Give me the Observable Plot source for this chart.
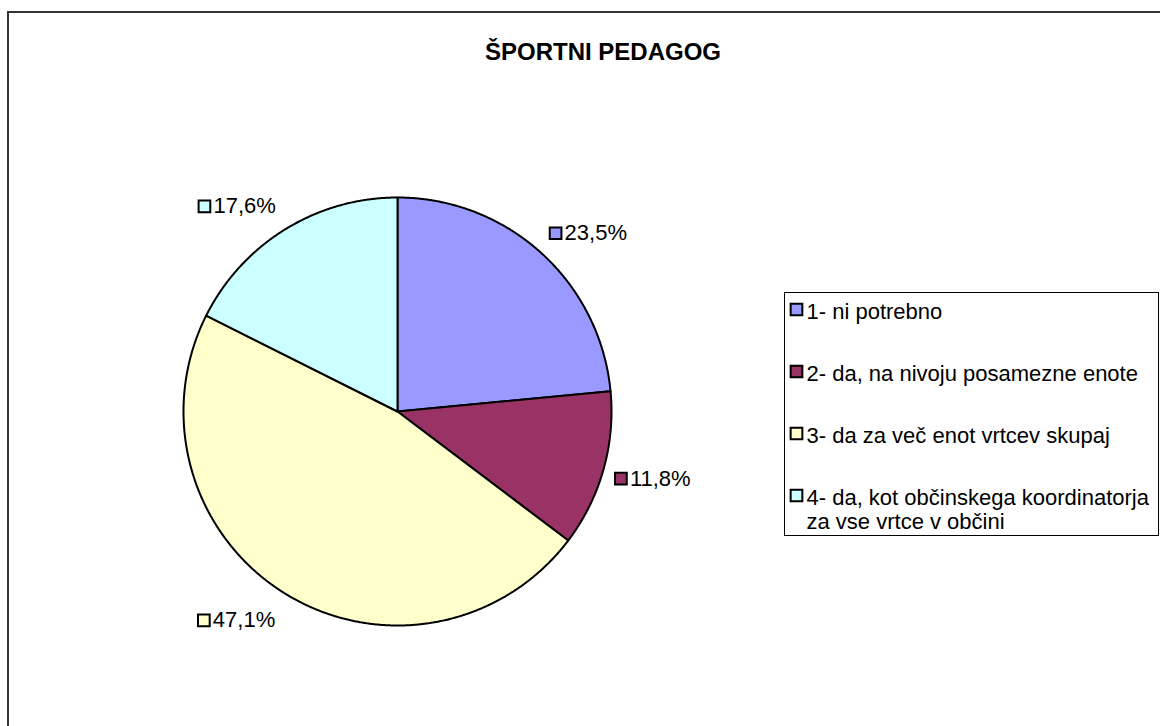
<!DOCTYPE html>
<html><head><meta charset="utf-8">
<script src="https://cdn.jsdelivr.net/npm/d3@7"></script>
<script src="https://cdn.jsdelivr.net/npm/@observablehq/plot@0.6"></script>
<style>
html,body{margin:0;padding:0;background:#fff;}
#wrap{position:relative;width:1160px;height:726px;overflow:hidden;font-family:"Liberation Sans",Arial,sans-serif;}
#border{position:absolute;left:7px;top:11px;width:1200px;height:800px;border:2px solid #333;box-sizing:border-box}
#title{position:absolute;left:0;width:1206px;top:38px;text-align:center;font-weight:bold;font-size:24px;color:#000}
#chart{position:absolute;left:0;top:0}
#legend{position:absolute;left:784px;top:292px}
svg{overflow:visible}
</style></head><body>
<div id="wrap"><div id="border"></div><div id="title">ŠPORTNI PEDAGOG</div><div id="chart"></div><div id="legend"></div></div>
<script>
const categories = ["1- ni potrebno", "2- da, na nivoju posamezne enote", "3- da za več enot vrtcev skupaj", "4- da, kot občinskega koordinatorja\nza vse vrtce v občini"];
const shares = [23.5, 11.8, 47.1, 17.6];
const labels = ["23,5%", "11,8%", "47,1%", "17,6%"];
const colors = ["#9999FF", "#993366", "#FFFFCC", "#CCFFFF"];

const FONT = '"Liberation Sans", Arial, sans-serif';
const LABEL_SIZE = 22;
const SQ = 6.6;

const rows = categories.map((c, i) => ({key: c, share: shares[i], label: labels[i]}));
const arcs = d3.pie().sort(null).value(d => d.share)(rows);

// polygon points for every slice, derived from the pie layout
const points = arcs.flatMap(a => {
  const pts = [{key: a.data.key, x: 0, y: 0}];
  const n = Math.max(2, Math.ceil((a.endAngle - a.startAngle) / 0.005));
  for (let k = 0; k <= n; k++) {
    const t = a.startAngle + (a.endAngle - a.startAngle) * k / n;
    pts.push({key: a.data.key, x: Math.sin(t), y: Math.cos(t)});
  }
  pts.push({key: a.data.key, x: 0, y: 0});
  return pts;
});

const LR = 1.056;
const labelRows = arcs.map(a => {
  const m = (a.startAngle + a.endAngle) / 2;
  return {key: a.data.key, label: a.data.label, x: LR * Math.sin(m), y: LR * Math.cos(m), right: Math.sin(m) > 0, c: Math.cos(m)};
});

const ctx = document.createElement("canvas").getContext("2d");
ctx.font = `${LABEL_SIZE}px ${FONT}`;

const labelMarks = labelRows.flatMap(r => {
  const w = ctx.measureText(r.label).width;
  const dy = r.c > 0 ? -r.c * 15 : -r.c * 20;
  return [
    Plot.text([r], {x: "x", y: "y", text: "label", textAnchor: r.right ? "start" : "end", dx: r.right ? 15 : -3, dy, fontSize: LABEL_SIZE, fill: "#000"}),
    Plot.dot([r], {x: "x", y: "y", fill: "key", stroke: "#000", strokeWidth: 2, symbol: "square", r: SQ, dx: r.right ? 6 : -(w + 12), dy})
  ];
});

const chart = Plot.plot({
  width: 1160, height: 726, margin: 0,
  style: {fontFamily: FONT, background: "transparent"},
  x: {domain: [-1, 1], range: [183, 611], axis: null},
  y: {domain: [-1, 1], range: [625, 197], axis: null},
  color: {domain: categories, range: colors},
  marks: [
    Plot.line(points, {x: "x", y: "y", z: "key", fill: "key", stroke: "#000", strokeWidth: 2, curve: "linear", strokeLinejoin: "round"}),
    ...labelMarks
  ]
});
document.getElementById("chart").append(chart);

const legend = Plot.plot({
  width: 374, height: 243, margin: 0,
  style: {fontFamily: FONT, background: "#fff"},
  x: {axis: null},
  y: {type: "point", domain: categories, range: [16, 203], padding: 0, axis: null},
  color: {domain: categories, range: colors},
  marks: [
    Plot.frame({stroke: "#000", strokeWidth: 1}),
    Plot.dot(categories, {y: d => d, fill: d => d, stroke: "#000", strokeWidth: 2, symbol: "square", r: SQ, frameAnchor: "left", dx: 12}),
    Plot.text(categories, {y: d => d, text: d => d, frameAnchor: "left", textAnchor: "start", lineAnchor: "top", dx: 22, dy: -8, fontSize: 22, lineHeight: 1.09, fill: "#000"})
  ]
});
document.getElementById("legend").append(legend);
</script>
</body></html>
